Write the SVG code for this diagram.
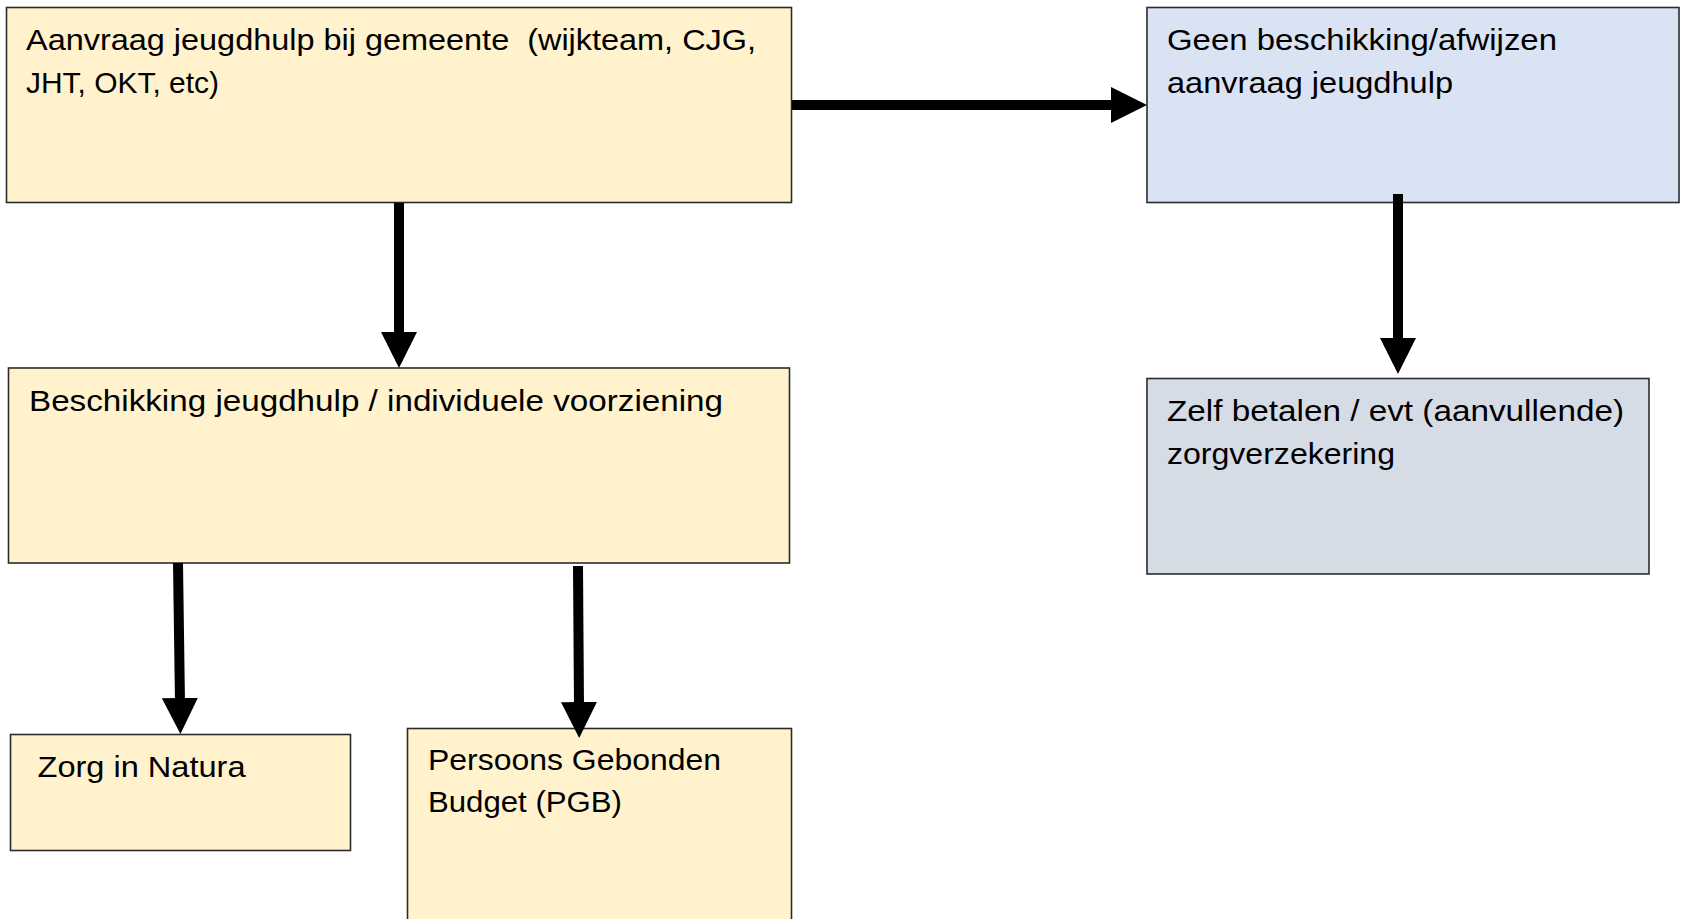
<svg xmlns="http://www.w3.org/2000/svg" width="1682" height="919" viewBox="0 0 1682 919">
<style>
  .box { stroke: #2b2b2b; stroke-width: 1.6; }
  .yellow { fill: #FFF2CC; }
  .blue { fill: #DAE3F3; }
  .grey { fill: #D6DCE5; }
  text { font-family: "Liberation Sans", Arial, sans-serif; font-size: 30px; fill: #000; white-space: pre; }
  .conn { stroke: #000; stroke-width: 10; fill: none; marker-end: url(#head); }
</style>
<defs>
  <marker id="head" markerUnits="userSpaceOnUse" markerWidth="36" markerHeight="36" viewBox="0 0 36 36" refX="6" refY="18" orient="auto">
    <path d="M0,0 L36,18 L0,36 Z" fill="#000"/>
  </marker>
</defs>
<rect width="1682" height="919" fill="#fff"/>
<g id="n1">
  <rect class="box yellow" x="6.5" y="7.5" width="785" height="195"/>
  <text x="26" y="50" textLength="730" lengthAdjust="spacingAndGlyphs">Aanvraag jeugdhulp bij gemeente  (wijkteam, CJG,</text>
  <text x="26" y="93" textLength="193" lengthAdjust="spacingAndGlyphs">JHT, OKT, etc)</text>
</g>
<g id="n2">
  <rect class="box blue" x="1147" y="7.5" width="532" height="195"/>
  <text x="1167" y="50" textLength="390" lengthAdjust="spacingAndGlyphs">Geen beschikking/afwijzen</text>
  <text x="1167" y="93" textLength="286" lengthAdjust="spacingAndGlyphs">aanvraag jeugdhulp</text>
</g>
<g id="n3">
  <rect class="box yellow" x="8.5" y="368" width="781" height="195"/>
  <text x="29" y="410.5" textLength="694" lengthAdjust="spacingAndGlyphs">Beschikking jeugdhulp / individuele voorziening</text>
</g>
<g id="n4">
  <rect class="box grey" x="1147" y="378.5" width="502" height="195.5"/>
  <text x="1167" y="421" textLength="457" lengthAdjust="spacingAndGlyphs">Zelf betalen / evt (aanvullende)</text>
  <text x="1167" y="464" textLength="228" lengthAdjust="spacingAndGlyphs">zorgverzekering</text>
</g>
<g id="n5">
  <rect class="box yellow" x="10.5" y="734.5" width="340" height="116"/>
  <text x="37.5" y="777" textLength="208" lengthAdjust="spacingAndGlyphs">Zorg in Natura</text>
</g>
<g id="n6">
  <rect class="box yellow" x="407.5" y="728.5" width="384" height="200"/>
  <text x="428" y="770" textLength="293" lengthAdjust="spacingAndGlyphs">Persoons Gebonden</text>
  <text x="428" y="812" textLength="194" lengthAdjust="spacingAndGlyphs">Budget (PGB)</text>
</g>
<g id="connectors">
  <line class="conn" x1="792" y1="105" x2="1117" y2="105"/>
  <line class="conn" x1="399" y1="203" x2="399" y2="338"/>
  <line class="conn" x1="1398" y1="194" x2="1398" y2="344"/>
  <line class="conn" x1="178" y1="563" x2="180" y2="704"/>
  <line class="conn" x1="578" y1="566" x2="579" y2="708"/>
</g>
</svg>
